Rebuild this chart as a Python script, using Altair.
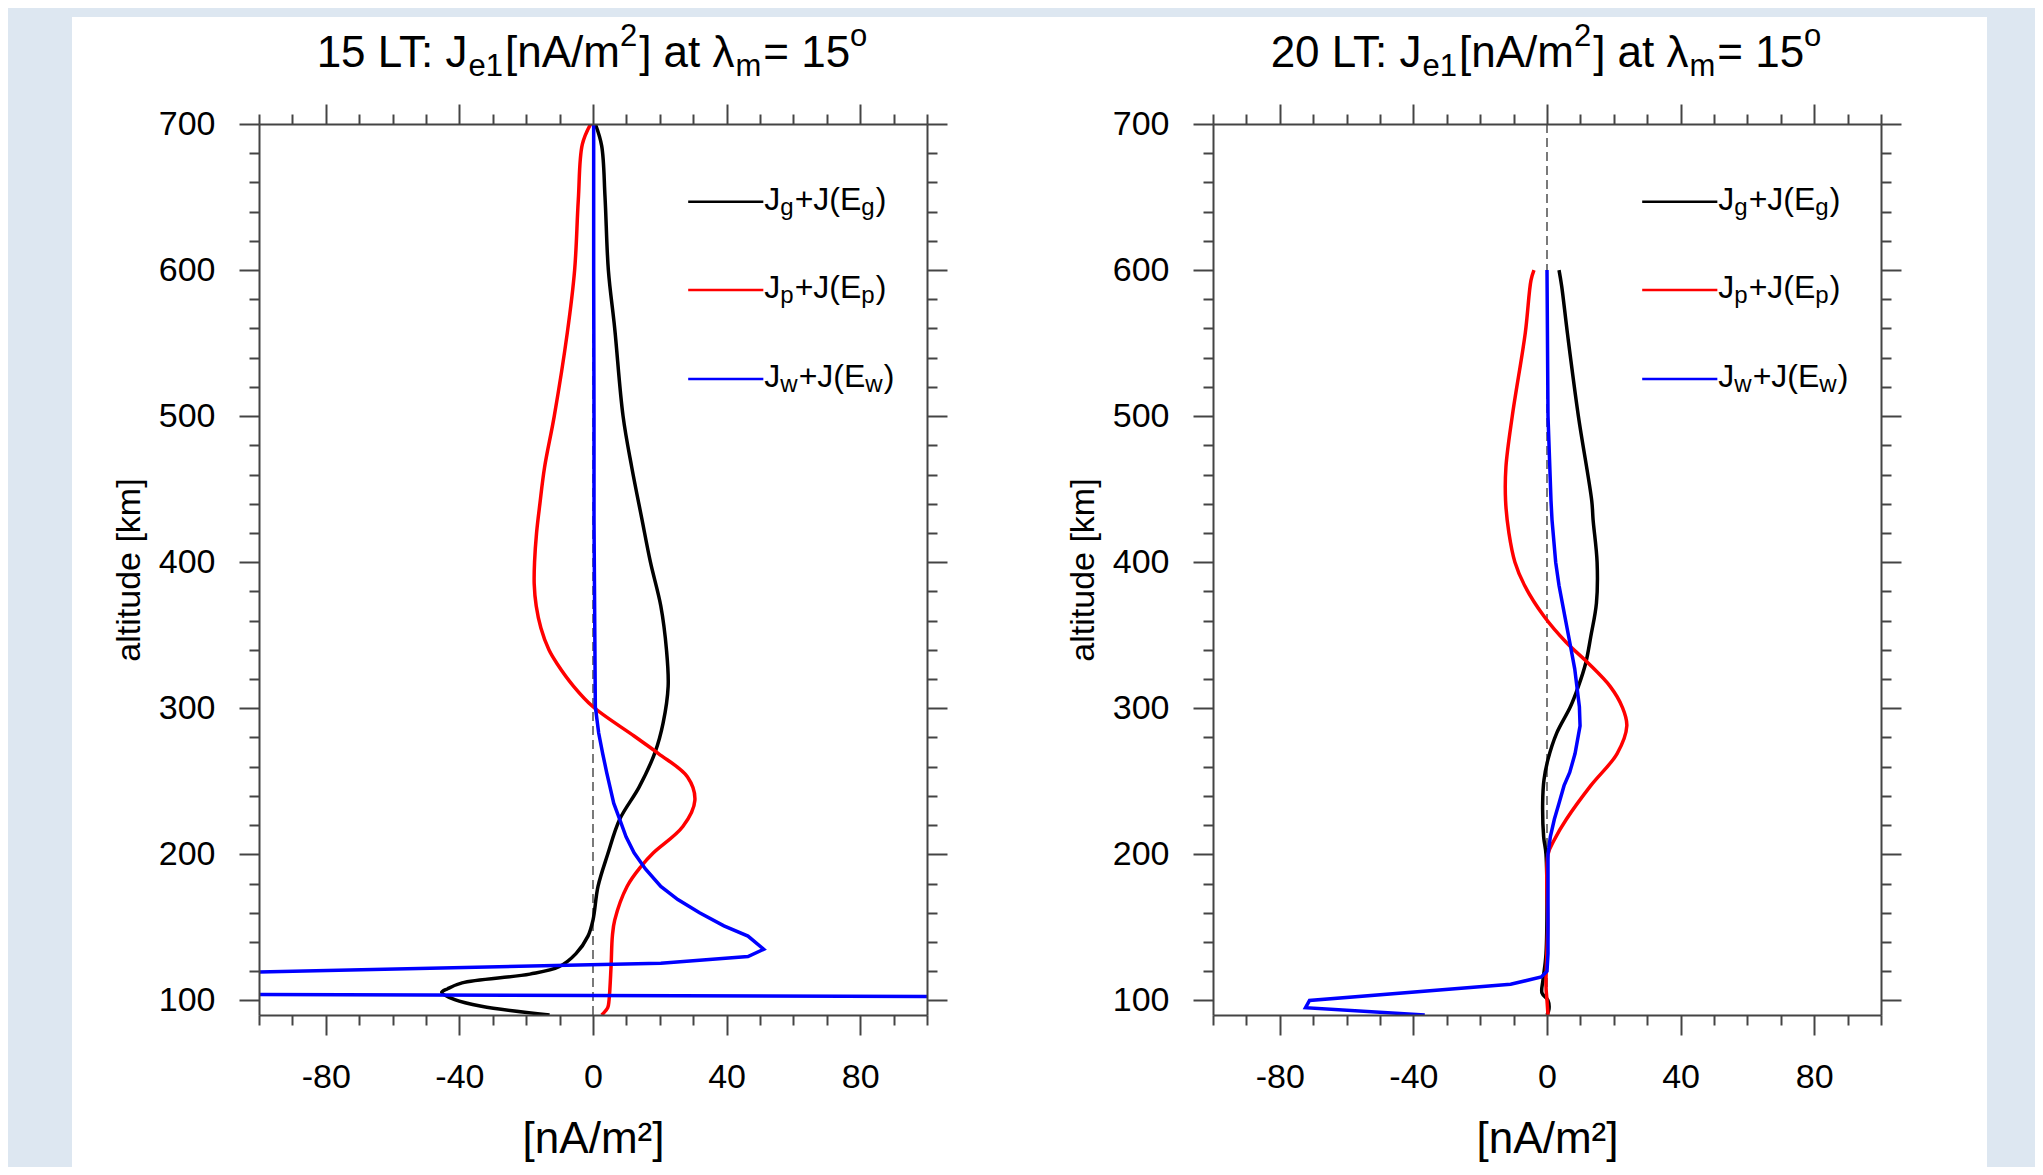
import altair as alt
import pandas as pd

FONT = "Liberation Sans"

# ---------------- data ----------------
# 15 LT panel
lt15_g_alt = [700, 685, 650, 600, 560, 500, 465, 430, 400, 370, 340, 315, 290, 270, 246, 224, 200, 178,
              155, 144, 132, 123, 118, 112, 108, 105.5, 100.5, 96, 90]
lt15_g_val = [0.7, 2.6, 3.6, 4.6, 6.5, 9.0, 11.6, 14.6, 17.2, 20.3, 22.0, 22.5, 21.0, 18.6, 13.8, 8.0, 4.4, 1.5,
              0.0, -1.5, -5.1, -10.2, -18.9, -39.2, -43.5, -45.3, -41.4, -33.4, -13.0]
lt15_p_alt = [700, 686, 648, 600, 557, 500, 465, 440, 420, 400, 385, 370, 355, 340, 331, 315, 301, 281, 269,
              253, 237, 219, 201, 192, 178, 155, 144, 123, 100, 95, 90]
lt15_p_val = [-0.7, -3.2, -4.4, -5.5, -7.7, -11.6, -14.5, -15.9, -16.9, -17.5, -17.6, -17.0, -15.6, -13.2,
              -10.9, -5.8, 0.0, 12.3, 19.6, 28.3, 30.5, 26.9, 18.1, 14.5, 10.2, 6.5, 5.8, 5.4, 4.8, 4.4, 2.6]
lt15_w_alt = [700, 600, 500, 429, 301, 283, 269, 256, 246, 235, 224, 212, 201, 190, 178, 169, 160, 151, 144,
              135, 130, 125.5, 118, 112, 105, 100, 95, 90]
lt15_w_val = [0.2, 0.2, 0.3, 0.3, 0.7, 1.7, 2.9, 4.1, 5.1, 6.2, 8.0, 9.9, 12.3, 15.7, 20.3, 25.4, 31.9, 39.2,
              46.4, 51.1, 46.4, 20.3, -130, -300, -243, 472, 380, 300]

# 20 LT panel
lt20_g_alt = [600, 589, 557, 500, 442, 429, 400, 372, 349, 331, 315, 301, 283, 265, 251, 235, 212, 200,
              132, 114, 105, 100, 94, 90]
lt20_g_val = [3.6, 4.4, 6.1, 9.4, 13.4, 13.8, 15.0, 14.8, 13.1, 11.6, 9.4, 7.0, 2.9, 0.3, -0.9, -1.3, -1.0,
              -0.3, -0.3, -1.2, -1.5, 0.3, 0.6, 0.0]
lt20_p_alt = [600, 593, 557, 500, 465, 442, 420, 400, 384, 363, 345, 331, 315, 301, 288, 269, 247, 224,
              210, 200, 150, 110, 100, 90]
lt20_p_val = [-3.9, -4.8, -6.5, -10.4, -12.3, -12.4, -11.4, -9.6, -6.7, -0.9, 5.8, 12.3, 18.9, 22.5,
              23.9, 21.0, 13.1, 5.8, 2.2, 0.3, 0.2, -0.3, 0.0, 0.3]
lt20_w_alt = [600, 500, 442, 429, 400, 384, 361, 343, 327, 301, 288, 269, 256, 247, 235, 224, 212, 200, 132,
              120, 116, 111, 100, 95, 90]
lt20_w_val = [0.0, 0.3, 1.2, 1.5, 2.6, 3.6, 5.5, 7.0, 8.3, 9.7, 9.9, 8.4, 6.8, 5.1, 3.6, 2.2, 1.0, 0.3, 0.3,
              0.0, -1.7, -10.9, -71.1, -72.3, -36.6]

series_keys = ["g", "p", "w"]
series_colors = ["#000000", "#ff0000", "#0000ff"]

x_ticks = list(range(-100, 101, 10))
y_ticks = list(range(100, 701, 20))

legend_x_start = 28.5
legend_x_end = 51.0
legend_alt = [646.8, 586.4, 525.4]

panel_times = ["15", "20"]

# ---------------- layout / style ----------------
W, H = 668, 891
MAIN_T, SUB_T = 44, 31      # title font sizes
MAIN_L, SUB_L = 32, 24      # legend font sizes
TICK_COLOR = "#444444"

# advance widths (em) of Liberation Sans; 'T' reduced to absorb the L-T / T-: kerning
ADV = {'0': .556, '1': .556, '2': .556, '5': .556, ' ': .278, 'L': .556, 'T': .45, ':': .278, 'J': .5,
       'e': .556, '[': .278, 'n': .556, 'A': .667, '/': .278, 'm': .833, ']': .278, 'a': .556, 't': .278,
       'λ': .52, '=': .584, 'o': .556, 'g': .556, '+': .584, '(': .333, ')': .333, 'E': .667, 'p': .556,
       'w': .722}


def text_width(s, fs):
    return sum(ADV.get(c, .556) for c in s) * fs


xs = alt.Scale(domain=[-100, 100], nice=False, zero=False)
ys = alt.Scale(domain=[90, 700], nice=False, zero=False)
cs = alt.Scale(domain=series_keys, range=series_colors)

# minor ticks: same 20px tick, but only the first 10px (next to the frame) drawn
x_tick_dash = {"condition": {"test": "datum.value % 40 !== 0", "value": [10, 40]}, "value": []}
y_tick_dash = {"condition": {"test": "datum.value % 100 !== 0", "value": [10, 40]}, "value": []}

common_axis = dict(grid=False, tickColor=TICK_COLOR, tickWidth=2, tickSize=20, domainColor=TICK_COLOR,
                   domainWidth=2, labelFont=FONT, labelColor="black", titleFont=FONT, titleColor="black",
                   titleFontWeight="normal", labelOverlap=False, labelFlush=False, zindex=2)


def x_axis(orient, labels):
    kw = dict(common_axis)
    if labels:
        kw.update(labelExpr="datum.value % 40 === 0 ? '' + datum.value : ''", labelFontSize=34,
                  labelPadding=25, title="[nA/m²]", titleFontSize=44, titlePadding=23)
    else:
        kw.update(labels=False, title=None)
    return alt.Axis(orient=orient, values=x_ticks, tickDash=x_tick_dash, **kw)


def y_axis(orient, labels):
    kw = dict(common_axis)
    if labels:
        kw.update(labelExpr="datum.value % 100 === 0 ? '' + datum.value : ''", labelFontSize=34,
                  labelPadding=24, title="altitude [km]", titleFontSize=34, titlePadding=12)
    else:
        kw.update(labels=False, title=None)
    return alt.Axis(orient=orient, values=y_ticks, tickDash=y_tick_dash, **kw)


def rich_text(segs, df, enc, base_dy, main_fs, sub_fs, sub_dy, sup_dy, gap, start=0.0):
    layers = []
    off = start
    for txt, kind in segs:
        fs = main_fs if kind == "n" else sub_fs
        dy = base_dy + (0 if kind == "n" else (sub_dy if kind == "s" else sup_dy))
        d = df.copy()
        d["t"] = txt
        layers.append(
            alt.Chart(d).mark_text(align="left", baseline="alphabetic", font=FONT, fontSize=fs,
                                   dx=off, dy=dy, color="black").encode(text="t:N", **enc))
        off += text_width(txt, fs) + (gap if kind != "n" else 0)
    return layers, off


def panel(lt, g_alt, g_val, p_alt, p_val, w_alt, w_val, bg_left, bg_right):
    rows = []
    for key, alts, vals in (("g", g_alt, g_val), ("p", p_alt, p_val), ("w", w_alt, w_val)):
        for i, (h, v) in enumerate(zip(alts, vals)):
            rows.append({"s": key, "h": h, "v": v, "i": i})
    df = pd.DataFrame(rows)

    layers = []
    # white paper behind the panel
    layers.append(alt.Chart(pd.DataFrame({"a": [0]})).mark_rect(color="white").encode(
        x=alt.value(bg_left), x2=alt.value(bg_right), y=alt.value(-107), y2=alt.value(1043)))
    # dashed zero line
    layers.append(alt.Chart(pd.DataFrame({"z": [0]})).mark_rule(
        color="#222222", strokeWidth=1.2, strokeDash=[9, 5]).encode(x=alt.X("z:Q", scale=xs, axis=None)))
    # smooth profiles (g, p) carrying the bottom / left axes
    layers.append(alt.Chart(df[df.s != "w"]).mark_line(strokeWidth=3.5, clip=True,
                                                       interpolate="catmull-rom").encode(
        x=alt.X("v:Q", scale=xs, axis=x_axis("bottom", True)),
        y=alt.Y("h:Q", scale=ys, axis=y_axis("left", True)),
        color=alt.Color("s:N", scale=cs, legend=None),
        order=alt.Order("i:Q")))
    # w profile
    layers.append(alt.Chart(df[df.s == "w"]).mark_line(strokeWidth=3.5, clip=True).encode(
        x=alt.X("v:Q", scale=xs, axis=None),
        y=alt.Y("h:Q", scale=ys, axis=None),
        color=alt.Color("s:N", scale=cs, legend=None),
        order=alt.Order("i:Q")))
    # legend lines (also carry the top / right frame axes)
    leg = pd.DataFrame({"s": series_keys, "x1": [legend_x_start] * 3, "x2": [legend_x_end] * 3,
                        "ly": legend_alt})
    layers.append(alt.Chart(leg).mark_rule(strokeWidth=2.5).encode(
        x=alt.X("x1:Q", scale=xs, axis=x_axis("top", False)), x2="x2:Q",
        y=alt.Y("ly:Q", scale=ys, axis=y_axis("right", False)),
        color=alt.Color("s:N", scale=cs, legend=None)))
    # legend labels  J_k+J(E_k)
    for key, la in zip(series_keys, legend_alt):
        d = pd.DataFrame({"lx": [legend_x_end], "ly": [la]})
        enc = dict(x=alt.X("lx:Q", scale=xs, axis=None), y=alt.Y("ly:Q", scale=ys, axis=None))
        segs = [("J", "n"), (key, "s"), ("+J(E", "n"), (key, "s"), (")", "n")]
        ls, _ = rich_text(segs, d, enc, 8, MAIN_L, SUB_L, 5, -12, 1, start=1)
        layers += ls
    # panel title
    segs = [(f"{lt} LT: J", "n"), ("e1", "s"), ("[nA/m", "n"), ("2", "u"), ("] at λ", "n"), ("m", "s"),
            ("= 15", "n"), ("o", "u")]
    total = sum(text_width(t, MAIN_T if k == "n" else SUB_T) + (0 if k == "n" else 2) for t, k in segs)
    enc = dict(x=alt.value(W / 2), y=alt.value(-57))
    ts, _ = rich_text(segs, pd.DataFrame({"a": [0]}), enc, 0, MAIN_T, SUB_T, 9, -21, 2, start=-total / 2)
    layers += ts

    return alt.layer(*layers).resolve_axis(x="independent", y="independent").properties(width=W, height=H)


left = panel(panel_times[0], lt15_g_alt, lt15_g_val, lt15_p_alt, lt15_p_val, lt15_w_alt, lt15_w_val, -187, 820)
right = panel(panel_times[1], lt20_g_alt, lt20_g_val, lt20_p_alt, lt20_p_val, lt20_w_alt, lt20_w_val, -150, 774)

chart = alt.hconcat(left, right, spacing=286, bounds="flush").properties(
    background="#dde7f1",
    padding={"left": 64, "top": 9, "right": 48, "bottom": 0},
).configure_view(stroke=None)

chart.save("out.html", embed_options={"renderer": "svg", "actions": False})
